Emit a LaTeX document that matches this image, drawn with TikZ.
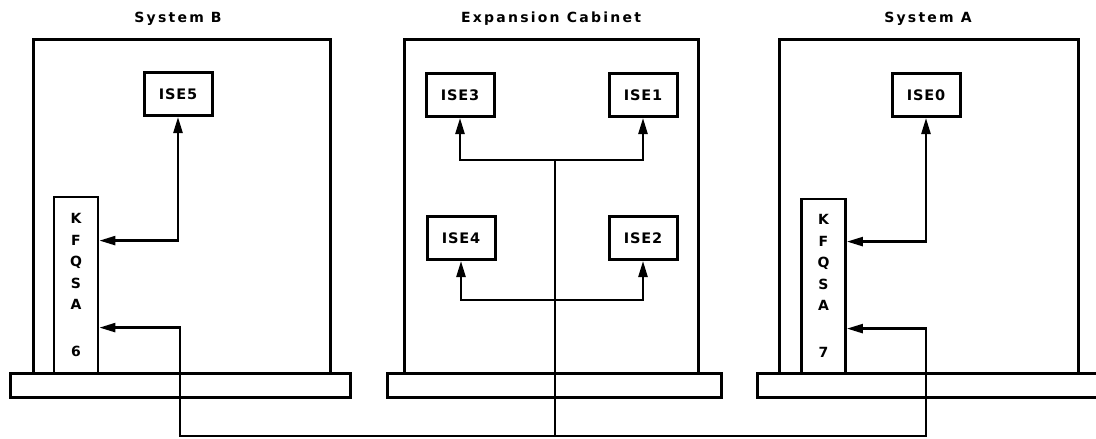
\documentclass[tikz,border=0pt]{standalone}
\usepackage{fontspec}
\setmainfont{DejaVu Sans}
\newfontfamily\titlefont[LetterSpace=16]{DejaVu Sans}
\newfontfamily\boxfont[LetterSpace=6]{DejaVu Sans}
\usetikzlibrary{arrows.meta,calc}
\tikzset{
  frame/.style = {line width=3pt},
  ise/.style = {draw, line width=3pt, minimum width=68pt, minimum height=43pt,
    inner sep=0pt, font=\boxfont\bfseries\fontsize{14.5}{16}\selectfont},
  kfqsa/.style = {draw, line width=2.8pt, minimum width=44pt, inner sep=0pt,
    align=center, font=\boxfont\bfseries\fontsize{14}{21.5}\selectfont},
  title/.style = {anchor=base, font=\titlefont\bfseries\fontsize{14}{16}\selectfont},
  link/.style = {line width=2.4pt, >={Triangle[length=16pt,width=9pt]}, <->},
  trunk/.style = {line width=2.4pt}
}
\begin{document}
\begin{tikzpicture}[x=1pt,y=-1pt]
\useasboundingbox (0,0) rectangle (1096,439);
% cabinets with their bases
\foreach \l/\r/\bl/\br in {33/330/10/350, 404/698/387/721, 779/1078/757/1110}
{
	\draw[frame] (\l,373) |- (\r,39) -- (\r,373);
	\draw[frame] (\bl,373) rectangle (\br,397);
}
% titles
\node[title] (titleB) at (178,23) {System B};
\node[title] (titleX) at (551,23) {Expansion Cabinet};
\node[title] (titleA) at (928,23) {System A};
% ISE boxes
\node[ise] (ise5) at (178,94) {ISE5};
\node[ise] (ise3) at (460,95) {ISE3};
\node[ise] (ise1) at (643,95) {ISE1};
\node[ise] (ise4) at (461,238) {ISE4};
\node[ise] (ise2) at (643,238) {ISE2};
\node[ise] (ise0) at (926,95) {ISE0};
% adapters
\node[kfqsa, minimum height=176pt] (kfqsaB) at (76,285) {K\\F\\Q\\S\\A\\[25.5pt]6};
\node[kfqsa, minimum height=174pt] (kfqsaA) at (823.5,286) {K\\F\\Q\\S\\A\\[25.5pt]7};
% junctions
\coordinate (hubTop) at (555,160);
\coordinate (hubLow) at (555,300);
\coordinate (busX) at (555,436);
\coordinate (dropB) at (180,436);
\coordinate (dropA) at (926,436);
% System B
\draw[link] ($(kfqsaB.north east)+(0,45)$) -| (ise5.south);
% Expansion Cabinet
\draw[link] (ise3.south) |- (hubTop) -| (ise1.south);
\draw[link] (ise4.south) |- (hubLow) -| (ise2.south);
\draw[trunk] (hubTop) -- (busX);
% System A
\draw[link] ($(kfqsaA.north east)+(0,44)$) -| (ise0.south);
% cable between the systems
\draw[link] ($(kfqsaB.north east)+(0,132)$) -| (dropB) -- (dropA) |- ($(kfqsaA.north east)+(0,131)$);
\end{tikzpicture}
\end{document}
